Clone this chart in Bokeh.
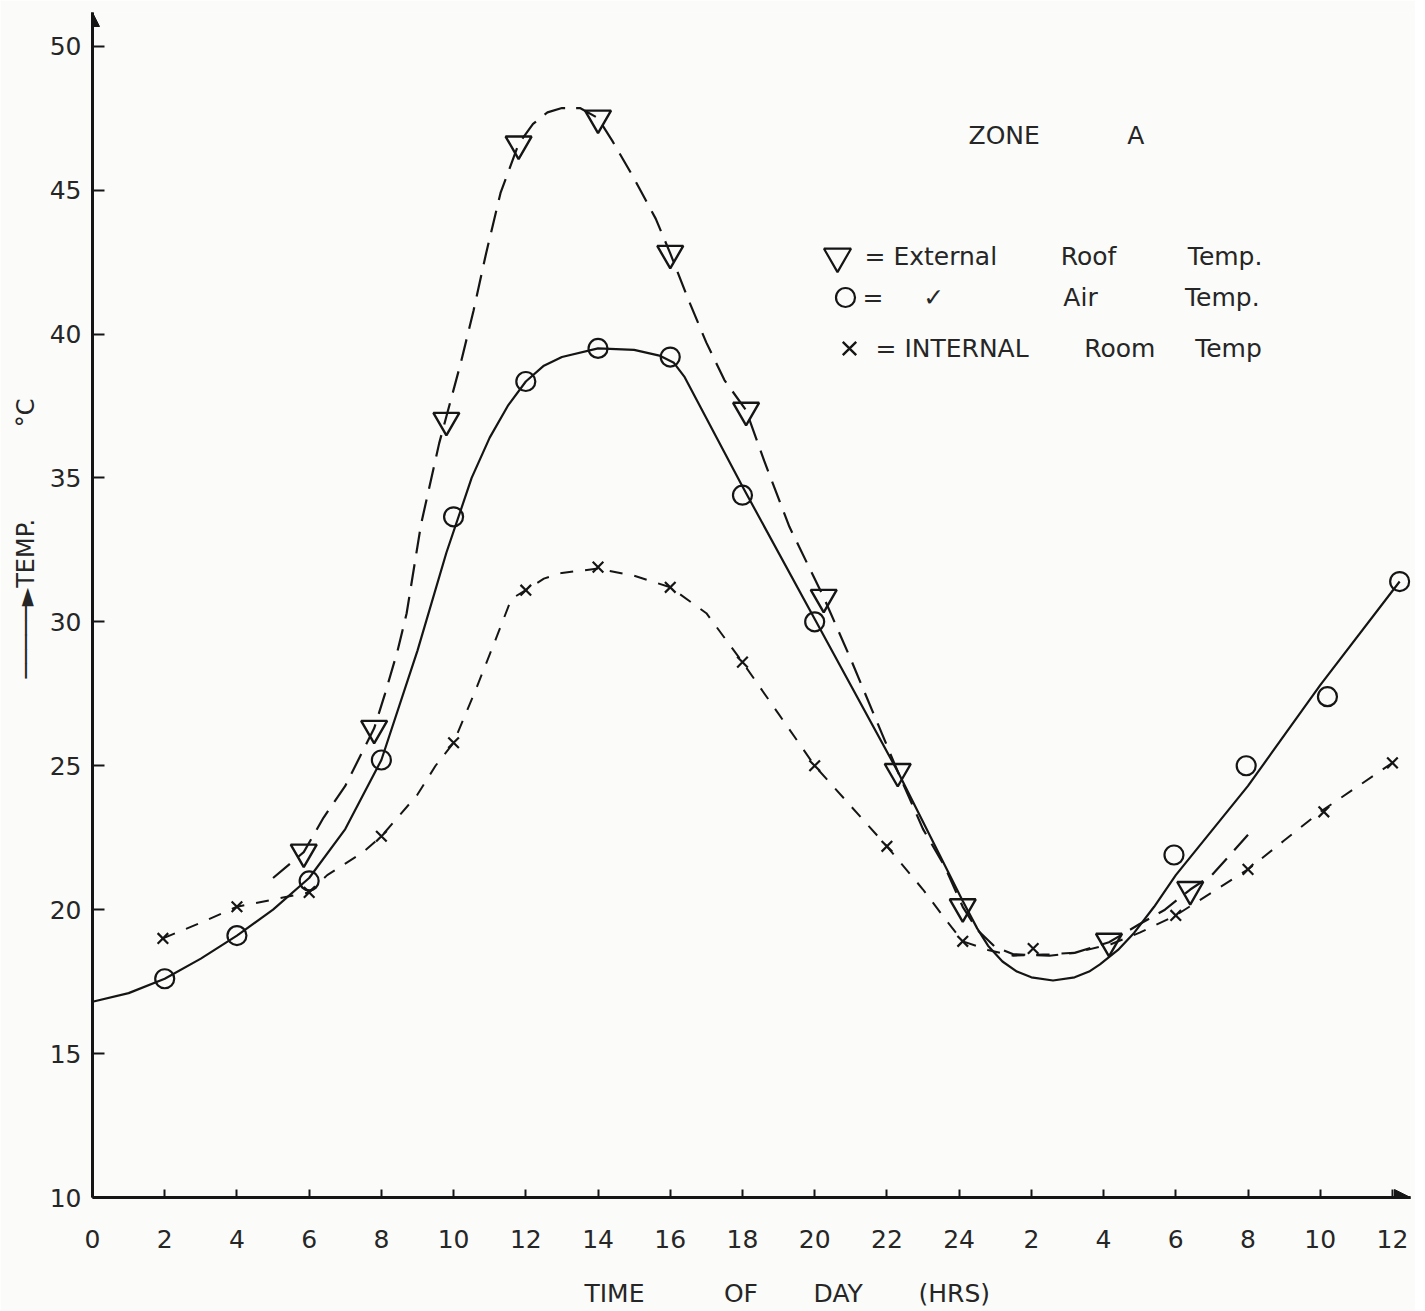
import math
from bokeh.plotting import figure
from bokeh.models import Range1d, FixedTicker, Arrow, NormalHead, Title
from bokeh.core.properties import value
from bokeh.embed import file_html
from bokeh.resources import INLINE

# ---------------- data ----------------
# x axis: hours from 0 h of day 1 (0..24) continuing into day 2 (24..36)
tick_hours = [0, 2, 4, 6, 8, 10, 12, 14, 16, 18, 20, 22, 24, 26, 28, 30, 32, 34, 36]
tick_labels = ["0", "2", "4", "6", "8", "10", "12", "14", "16", "18", "20", "22",
               "24", "2", "4", "6", "8", "10", "12"]
temp_ticks = [10, 15, 20, 25, 30, 35, 40, 45, 50]

# O = Air temp. (measured points)
air_hours = [2.0, 4.0, 6.0, 8.0, 10.0, 12.0, 14.0, 16.0, 18.0, 20.0, 29.95, 31.95, 34.2, 36.2]
air_temp = [17.6, 19.1, 21.0, 25.2, 33.65, 38.35, 39.5, 39.2, 34.4, 30.0, 21.9, 25.0, 27.4, 31.4]

# V = External roof temp. (measured points)
roof_hours = [5.85, 7.8, 9.8, 11.8, 14.0, 16.0, 18.1, 20.25, 22.3, 24.1, 28.15, 30.4]
roof_temp = [22.0, 26.3, 37.0, 46.6, 47.5, 42.8, 37.35, 30.85, 24.8, 20.1, 18.9, 20.7]

# X = Internal room temp. (measured points)
room_hours = [1.95, 4.0, 6.0, 8.0, 10.0, 12.0, 14.0, 16.0, 18.0, 20.0, 22.0, 24.1, 26.05,
              30.0, 32.0, 34.1, 36.0]
room_temp = [19.0, 20.1, 20.6, 22.55, 25.8, 31.1, 31.9, 31.2, 28.6, 25.0, 22.2, 18.9, 18.65,
             19.8, 21.4, 23.4, 25.1]

# hand-drawn fitted curves
air_curve_hours = [0, 1, 2, 3, 4, 5, 6, 7, 8, 9, 9.8, 10.5, 11, 11.5, 12, 12.5, 13, 14, 15,
                   15.7, 16.1, 16.4, 18, 20, 22.3, 24.1, 24.5, 24.8, 25.2, 25.6, 26.0, 26.6,
                   27.2, 27.6, 27.9, 28.4, 28.85, 29.4, 30.0, 32.0, 34.0, 36.2]
air_curve_temp = [16.8, 17.1, 17.6, 18.3, 19.1, 20.0, 21.1, 22.8, 25.2, 29.0, 32.4, 35.0,
                  36.4, 37.5, 38.35, 38.9, 39.2, 39.5, 39.45, 39.25, 39.0, 38.5, 34.7, 30.1,
                  24.8, 20.3, 19.35, 18.75, 18.2, 17.85, 17.65, 17.54, 17.65, 17.85, 18.1,
                  18.6, 19.2, 20.1, 21.2, 24.3, 27.8, 31.4]

roof_curve_hours = [5.0, 5.85, 6.4, 7.0, 7.8, 8.1, 8.45, 8.7, 9.1, 9.6, 10.2, 10.55, 10.9,
                    11.3, 11.8, 12.2, 12.6, 13.0, 13.5, 14.0, 14.4, 15.0, 15.6, 16.0, 16.5,
                    17.0, 17.5, 18.1, 18.6, 19.3, 20.25, 21.0, 21.6, 22.3, 23.0, 23.6, 24.1,
                    24.5, 25.0, 25.5, 26.5, 27.2, 28.15, 29.0, 29.7, 30.4, 31.0, 32.0]
roof_curve_temp = [21.1, 22.0, 23.2, 24.3, 26.3, 27.5, 29.0, 30.3, 33.4, 36.2, 39.0, 40.8,
                   42.8, 44.9, 46.6, 47.3, 47.7, 47.85, 47.85, 47.5, 46.7, 45.4, 44.0, 42.8,
                   41.2, 39.7, 38.4, 37.35, 35.6, 33.3, 30.85, 28.7, 26.9, 24.8, 22.8, 21.5,
                   20.1, 19.3, 18.7, 18.45, 18.4, 18.5, 18.87, 19.5, 20.0, 20.7, 21.2, 22.6]

room_curve_hours = [1.95, 3.0, 4.0, 5.0, 6.0, 6.5, 7.0, 7.5, 8.0, 9.0, 9.5, 10.0, 10.6, 11.2,
                    11.6, 12.0, 12.5, 13.0, 14.0, 15.0, 16.0, 17.0, 18.0, 19.0, 20.0, 21.0,
                    22.0, 23.0, 23.6, 24.1, 24.8, 25.5, 26.5, 27.2, 28.2, 29.0, 30.0, 31.0,
                    32.0, 33.0, 34.0, 35.0, 36.0]
room_curve_temp = [19.0, 19.55, 20.1, 20.35, 20.6, 21.2, 21.6, 22.0, 22.55, 24.0, 25.0, 25.8,
                   27.6, 29.5, 30.8, 31.1, 31.5, 31.7, 31.85, 31.6, 31.2, 30.3, 28.6, 26.8,
                   25.0, 23.6, 22.2, 20.7, 19.7, 18.9, 18.6, 18.4, 18.45, 18.5, 18.8, 19.2,
                   19.8, 20.6, 21.4, 22.4, 23.4, 24.25, 25.1]

# ---------------- figure ----------------
NB = "\u00a0"
INK = "#151515"
TXT = "#262626"
FONT = "DejaVu Sans"
BG = "#fbfcfa"

X0, X1 = 0, 36.5
Y0, Y1 = 10, 51.17
LEFT, RIGHT, TOP, BOTTOM = 92, 5, 12, 114
W, H = 1415, 1311
FW, FH = W - LEFT - RIGHT, H - TOP - BOTTOM


def hx(px):  # picture pixel -> hours (for annotation placement)
    return X0 + (px - LEFT) * (X1 - X0) / FW


def vy(py):  # picture pixel -> temperature (for annotation placement)
    return Y0 + (TOP + FH - py) * (Y1 - Y0) / FH


p = figure(width=W, height=H, output_backend="svg", toolbar_location=None, title=None,
           x_range=Range1d(X0, X1), y_range=Range1d(Y0, Y1),
           min_border_left=LEFT, min_border_right=RIGHT, min_border_top=TOP,
           min_border_bottom=BOTTOM, background_fill_color=BG, border_fill_color=BG,
           outline_line_color=None)
p.grid.visible = False

for ax in (p.xaxis, p.yaxis):
    ax.axis_line_width = 3
    ax.axis_line_color = INK
    ax.major_tick_line_width = 2
    ax.major_tick_line_color = INK
    ax.minor_tick_line_color = None
    ax.major_tick_out = 0
    ax.major_label_text_font = FONT
    ax.major_label_text_font_size = "25px"
    ax.major_label_text_color = TXT

p.xaxis.ticker = FixedTicker(ticks=tick_hours)
p.xaxis.major_label_overrides = {h: s for h, s in zip(tick_hours, tick_labels)}
p.xaxis.major_tick_in = 8
p.xaxis.major_label_standoff = 32
p.xaxis.axis_label = NB * 9 + "TIME" + NB * 10 + "OF" + NB * 7 + "DAY" + NB * 7 + "(HRS)"
p.xaxis.axis_label_standoff = 28
p.xaxis.axis_label_text_font = FONT
p.xaxis.axis_label_text_font_size = "25px"
p.xaxis.axis_label_text_font_style = "normal"
p.xaxis.axis_label_text_color = TXT

p.yaxis.ticker = FixedTicker(ticks=temp_ticks)
p.yaxis.major_tick_in = 12
p.yaxis.major_label_standoff = 11

# y axis title with its arrow, set left of the axis
p.add_layout(Title(text="\u2500\u2500\u2500\u2500\u2500\u25ba" + "TEMP." + NB * 12 + "\u00b0C",
                   align="left", offset=1197 - 678, standoff=14,
                   text_font=FONT, text_font_size="24px", text_font_style="normal",
                   text_color=TXT), "left")

# axis arrow heads
p.add_layout(Arrow(x_start=0, y_start=Y1 - 0.6, x_end=0, y_end=Y1, line_width=3,
                   line_color=INK,
                   end=NormalHead(size=14, fill_color=INK, line_color=INK, line_width=1)))
p.add_layout(Arrow(x_start=X1 - 0.6, y_start=Y0, x_end=X1, y_end=Y0, line_width=3,
                   line_color=INK,
                   end=NormalHead(size=16, fill_color=INK, line_color=INK, line_width=1)))

# curves
p.line(air_curve_hours, air_curve_temp, line_color=INK, line_width=2.2)
p.line(roof_curve_hours, roof_curve_temp, line_color=INK, line_width=2.2, line_dash="22 11")
p.line(room_curve_hours, room_curve_temp, line_color=INK, line_width=2.0, line_dash="13 12")

# markers
p.scatter(roof_hours, roof_temp, marker="inverted_triangle", size=26, fill_color=None,
          line_color=INK, line_width=2.4)
p.scatter(air_hours, air_temp, marker="circle", size=19, fill_color=None,
          line_color=INK, line_width=2.2)
p.scatter(room_hours, room_temp, marker="x", size=15, line_color=INK, line_width=2.2)

# title text and key
p.text(x=[hx(968)], y=[vy(135)], text=["ZONE" + NB * 11 + "A"], text_font=value(FONT),
       text_font_size="25px", text_baseline="middle", text_align="left", text_color=TXT)

p.scatter([hx(837)], [vy(256)], marker="inverted_triangle", size=27, fill_color=None,
          line_color=INK, line_width=2.2)
p.scatter([hx(845)], [vy(297)], marker="circle", size=19, fill_color=None,
          line_color=INK, line_width=2.2)
p.scatter([hx(849)], [vy(348)], marker="x", size=19, line_color=INK, line_width=2.4)

key_lines = ["= External" + NB * 8 + "Roof" + NB * 9 + "Temp.",
             "=" + NB * 5 + "\u2713" + NB * 15 + "Air" + NB * 11 + "Temp.",
             "= INTERNAL" + NB * 7 + "Room" + NB * 5 + "Temp"]
p.text(x=[hx(864), hx(862), hx(875)], y=[vy(256), vy(297), vy(348)], text=key_lines,
       text_font=value(FONT), text_font_size="25px", text_baseline="middle",
       text_align="left", text_color=TXT)

with open("out.html", "w") as f:
    f.write(file_html(p, INLINE))
